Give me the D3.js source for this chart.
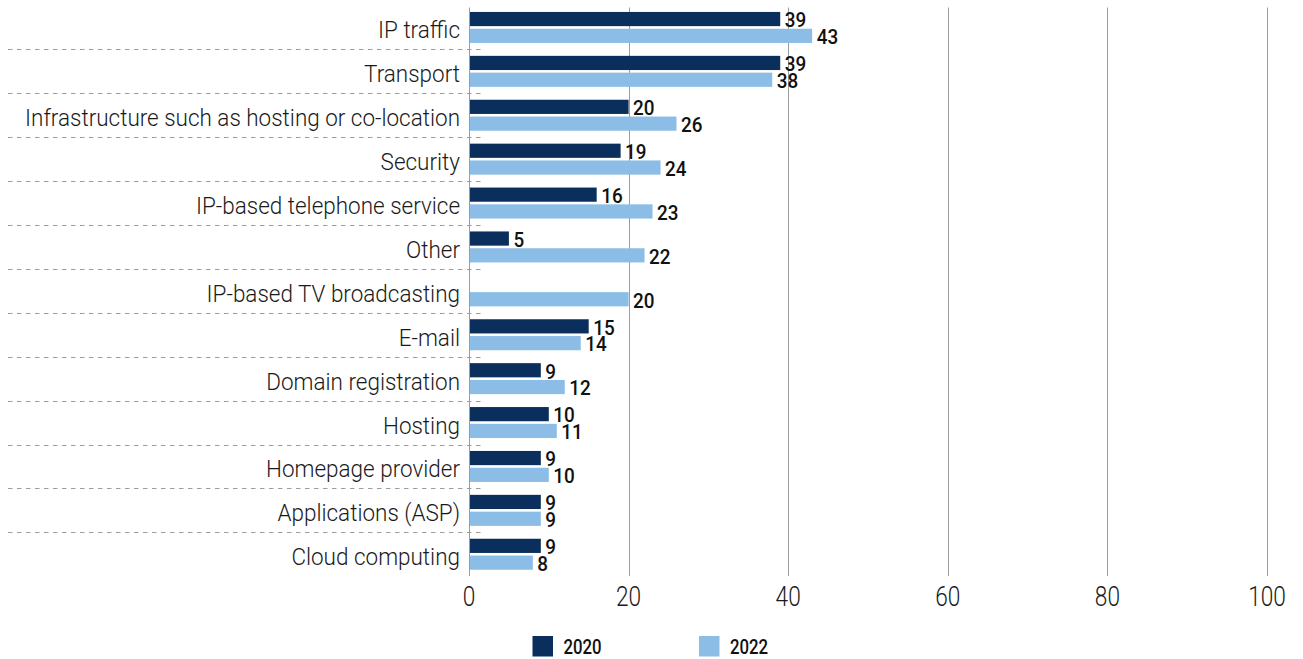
<!DOCTYPE html>
<html>
<head>
<meta charset="utf-8">
<script src="https://cdn.jsdelivr.net/npm/d3@7"></script>
<style>
  html, body { margin: 0; padding: 0; background: #fff; }
  svg { display: block; }
  text { font-family: "Roboto", "Liberation Sans", sans-serif; }
</style>
</head>
<body>
<svg id="chart" width="1303" height="659"></svg>
<script>
// Services offered, share of providers (%), 2020 vs 2022
const categories = [
  "IP traffic",
  "Transport",
  "Infrastructure such as hosting or co-location",
  "Security",
  "IP-based telephone service",
  "Other",
  "IP-based TV broadcasting",
  "E-mail",
  "Domain registration",
  "Hosting",
  "Homepage provider",
  "Applications (ASP)",
  "Cloud computing"
];
const values2020 = [39, 39, 20, 19, 16, 5, null, 15, 9, 10, 9, 9, 9];
const values2022 = [43, 38, 26, 24, 23, 22, 20, 14, 12, 11, 10, 9, 8];
const seriesNames = ["2020", "2022"];
const seriesColors = ["#0b2f5c", "#8bbde7"];
const xTicks = [0, 20, 40, 60, 80, 100];

const svg = d3.select("#chart");
const gridColor = "#9c9c9c";
const textColor = "#1a1a1a";

const x = d3.scaleLinear().domain([0, 100]).range([469, 1267]);
const y = d3.scaleBand().domain(categories).range([5.5, 576.2]);
const inner = d3.scaleBand().domain(seriesNames).range([0, y.bandwidth()])
  .paddingInner(0.155).paddingOuter(0.384);

const rows = categories.map((c, i) => ({ cat: c, vals: [values2020[i], values2022[i]] }));

// narrow lettering: horizontal squeeze applied around each text's anchor point
function squeeze(sel, sx) {
  sel.attr("transform", function () {
    const px = +this.getAttribute("data-x"), py = +this.getAttribute("data-y");
    return `translate(${px},${py}) scale(${sx},1)`;
  });
}

// vertical gridlines
svg.append("g")
  .selectAll("line")
  .data(xTicks.slice(1))
  .join("line")
  .attr("x1", d => Math.round(x(d)) + 0.5).attr("x2", d => Math.round(x(d)) + 0.5)
  .attr("y1", 7.5).attr("y2", 576)
  .attr("stroke", gridColor).attr("stroke-width", 1);

// dashed row separators
svg.append("g")
  .selectAll("line")
  .data(categories.slice(1))
  .join("line")
  .attr("x1", 8).attr("x2", 483)
  .attr("y1", d => Math.round(y(d)) + 0.5).attr("y2", d => Math.round(y(d)) + 0.5)
  .attr("stroke", gridColor).attr("stroke-width", 1)
  .attr("stroke-dasharray", "4.5,4.5");

// bars
const groups = svg.append("g")
  .selectAll("g")
  .data(rows)
  .join("g")
  .attr("transform", d => `translate(0,${y(d.cat)})`);

const barData = d => d.vals.map((v, k) => ({ v, k })).filter(e => e.v !== null);

groups.selectAll("rect")
  .data(barData)
  .join("rect")
  .attr("x", x(0))
  .attr("y", e => inner(seriesNames[e.k]))
  .attr("width", e => x(e.v) - x(0))
  .attr("height", inner.bandwidth())
  .attr("fill", e => seriesColors[e.k]);

groups.selectAll("text.val")
  .data(barData)
  .join("text")
  .attr("class", "val")
  .attr("data-x", e => x(e.v) + 4.5)
  .attr("data-y", e => inner(seriesNames[e.k]) + inner.bandwidth() / 2 + 0.8)
  .attr("dy", "0.355em")
  .attr("font-size", 21)
  .attr("font-weight", 500)
  .attr("fill", "#111")
  .text(e => e.v)
  .call(squeeze, 0.9);

// zero axis line
svg.append("line")
  .attr("x1", x(0) + 0.5).attr("x2", x(0) + 0.5)
  .attr("y1", 7.5).attr("y2", 576)
  .attr("stroke", gridColor).attr("stroke-width", 1);

// category labels, condensed so the longest one spans from x≈25 to the axis gap
const catLabels = svg.append("g")
  .selectAll("text")
  .data(categories)
  .join("text")
  .attr("data-x", 460)
  .attr("data-y", d => y(d) + y.bandwidth() / 2 + 11)
  .attr("text-anchor", "end")
  .attr("font-size", 24)
  .attr("font-weight", 300)
  .attr("fill", textColor)
  .text(d => d);
const widest = d3.max(catLabels.nodes(), n => n.getComputedTextLength());
catLabels.call(squeeze, 435 / widest);

// x axis tick labels
svg.append("g")
  .selectAll("text")
  .data(xTicks)
  .join("text")
  .attr("data-x", d => x(d))
  .attr("data-y", 606)
  .attr("text-anchor", "middle")
  .attr("font-size", 27)
  .attr("font-weight", 300)
  .attr("fill", textColor)
  .text(d => d)
  .call(squeeze, 0.84);

// legend
const legend = svg.append("g");
const legendX = [532.5, 699];
seriesNames.forEach((name, k) => {
  legend.append("rect")
    .attr("x", legendX[k]).attr("y", 636)
    .attr("width", 20.5).attr("height", 20.5)
    .attr("fill", seriesColors[k]);
  legend.append("text")
    .attr("data-x", legendX[k] + 31).attr("data-y", 653.5)
    .attr("font-size", 21).attr("font-weight", 500)
    .attr("fill", "#111")
    .text(name)
    .call(squeeze, 0.8);
});
</script>
</body>
</html>
